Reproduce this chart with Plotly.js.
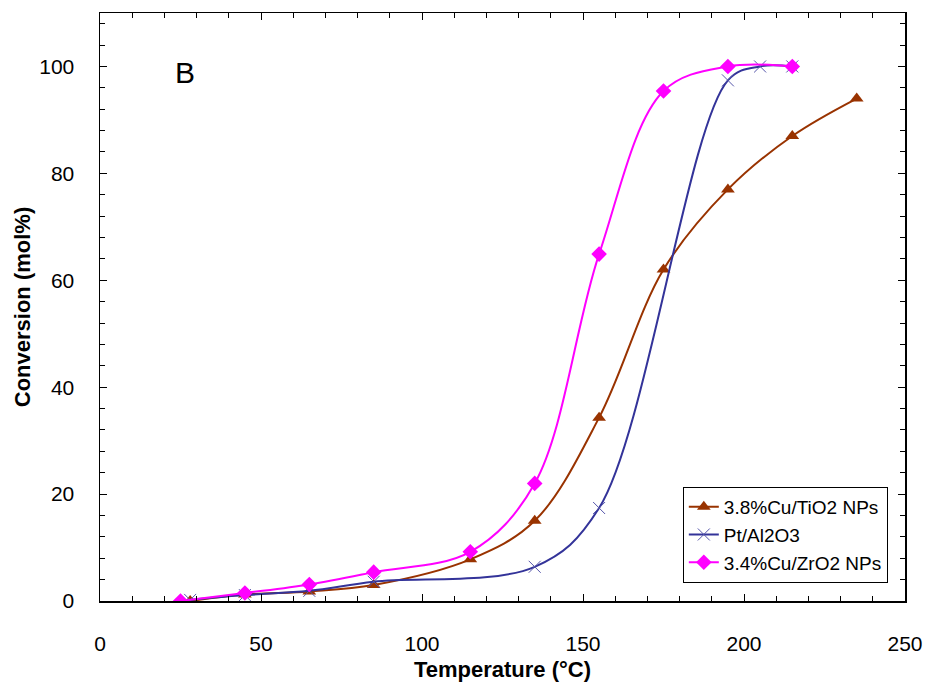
<!DOCTYPE html>
<html>
<head>
<meta charset="utf-8">
<script src="https://cdn.plot.ly/plotly-3.0.1.min.js"></script>
<style>
  html, body { margin: 0; padding: 0; background: #fff; }
  #chart { width: 930px; height: 691px; }
</style>
</head>
<body>
<div id="chart"></div>
<script>
// Conversion vs. temperature for three catalysts
const tempTiO2 = [28, 45, 65, 85, 115, 135, 155, 175, 195, 215, 235];
const convTiO2 = [0, 1.2, 1.8, 3.0, 7.8, 15.0, 34.3, 62.0, 77.0, 87.0, 94.0];

const tempPt = [28, 45, 65, 85, 135, 155, 195, 205, 215];
const convPt = [0.2, 1.1, 1.9, 3.6, 6.4, 17.4, 97.4, 100, 100];

const tempZrO2 = [25, 45, 65, 85, 115, 135, 155, 175, 195, 215];
const convZrO2 = [0, 1.5, 3.1, 5.4, 9.2, 22.0, 64.9, 95.4, 100, 100];

const seriesNames = ['3.8%Cu/TiO2 NPs', 'Pt/Al2O3', '3.4%Cu/ZrO2 NPs'];

const FONT = 'Liberation Sans, Arial, sans-serif';

const traces = [
  {
    x: tempTiO2, y: convTiO2, name: seriesNames[0],
    mode: 'lines+markers',
    line: { color: '#993300', width: 2, shape: 'spline', smoothing: 1 },
    marker: { symbol: 'triangle-up', size: 12, color: '#993300' }
  },
  {
    x: tempPt, y: convPt, name: seriesNames[1],
    mode: 'lines+markers',
    line: { color: '#333399', width: 2, shape: 'spline', smoothing: 1 },
    marker: { symbol: 'x-thin', size: 12, color: '#5555aa', line: { color: '#5555aa', width: 1 } }
  },
  {
    x: tempZrO2, y: convZrO2, name: seriesNames[2],
    mode: 'lines+markers',
    line: { color: '#ff00ff', width: 2, shape: 'spline', smoothing: 1 },
    marker: { symbol: 'diamond', size: 12, color: '#ff00ff' }
  }
];

const layout = {
  width: 930, height: 691,
  margin: { l: 100, r: 25, t: 13, b: 90 },
  paper_bgcolor: '#fff', plot_bgcolor: '#fff',
  font: { family: FONT, color: '#000', size: 20 },
  showlegend: true,
  legend: {
    x: 0.724, y: 0.194, xanchor: 'left', yanchor: 'top',
    bgcolor: '#fff', bordercolor: '#000', borderwidth: 1,
    font: { family: FONT, size: 19, color: '#000' },
    tracegroupgap: 4
  },
  xaxis: {
    range: [0, 250], dtick: 50, tick0: 0,
    showgrid: false, zeroline: false,
    showline: true, linecolor: '#000', linewidth: 1.5, mirror: 'ticks',
    ticks: 'inside', ticklen: 7, tickwidth: 1, tickcolor: '#000',
    minor: { dtick: 10, ticks: 'inside', ticklen: 5, tickwidth: 1, tickcolor: '#000', showgrid: false },
    tickfont: { family: FONT, size: 21 },
    ticklabelstandoff: 23,
    title: { text: '<b>Temperature (°C)</b>', font: { family: FONT, size: 22 }, standoff: 8 }
  },
  yaxis: {
    range: [0, 110], dtick: 20, tick0: 0,
    showgrid: false, zeroline: false,
    showline: true, linecolor: '#000', linewidth: 1.5, mirror: 'ticks',
    ticks: 'inside', ticklen: 7, tickwidth: 1, tickcolor: '#000',
    minor: { dtick: 4, ticks: 'inside', ticklen: 5, tickwidth: 1, tickcolor: '#000', showgrid: false },
    tickfont: { family: FONT, size: 21 },
    ticklabelstandoff: 20,
    title: { text: '<b>Conversion (mol%)</b>', font: { family: FONT, size: 22 }, standoff: 2 }
  },
  annotations: [
    { x: 26.4, y: 98.8, xref: 'x', yref: 'y', text: 'B', showarrow: false,
      font: { family: FONT, size: 30, color: '#000' } }
  ]
};

Plotly.newPlot('chart', traces, layout, { displayModeBar: false, staticPlot: true });
</script>
</body>
</html>
